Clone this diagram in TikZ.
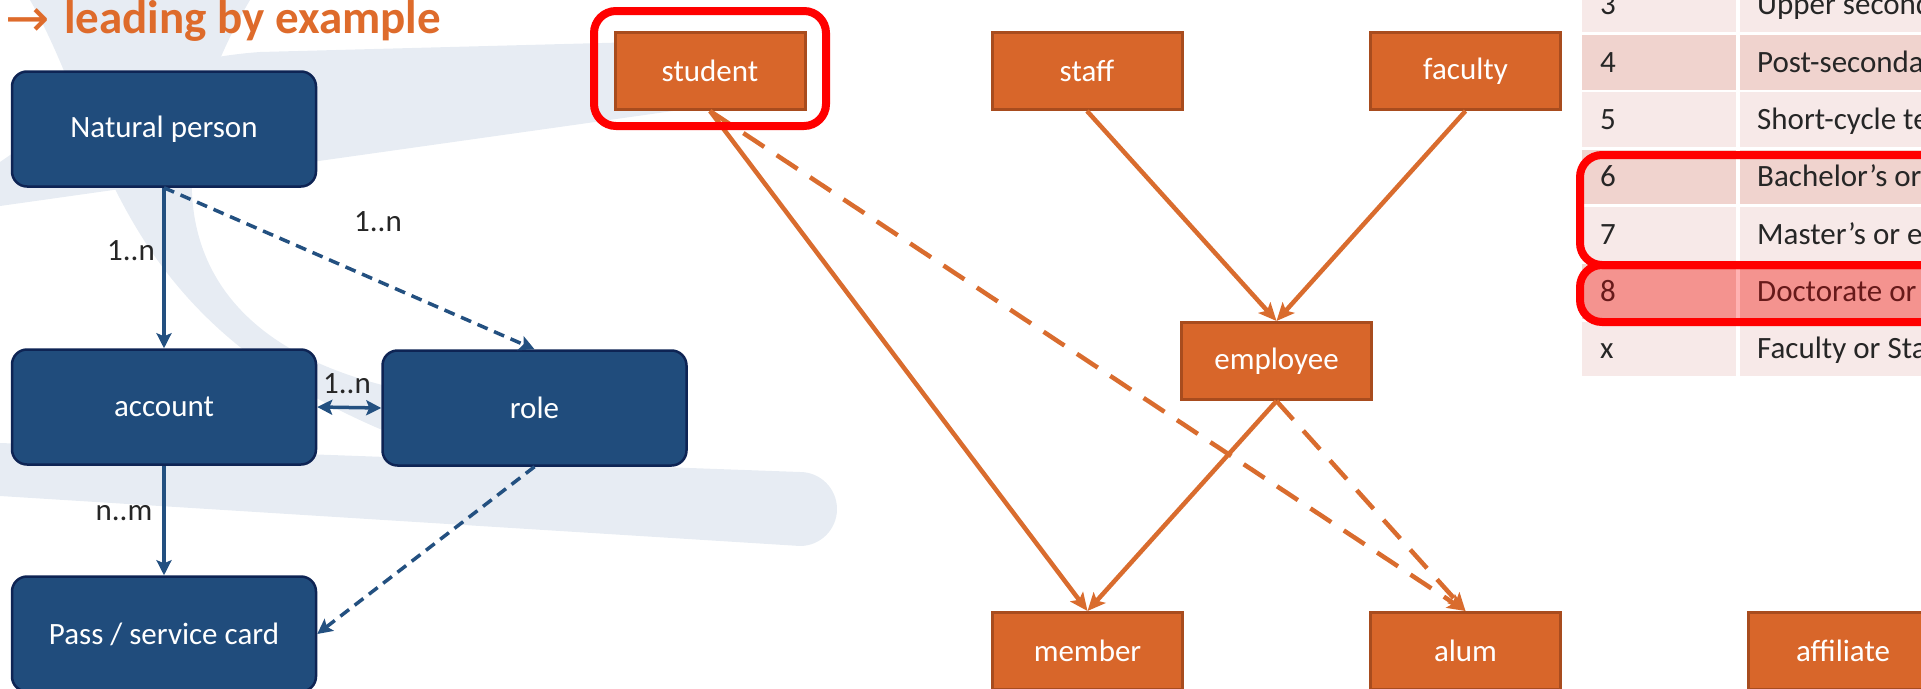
\documentclass[tikz,border=0pt]{standalone}
\usepackage{fontspec}
\setmainfont{Carlito}
\newfontfamily\arrowfont{DejaVu Sans}
\usetikzlibrary{arrows.meta}
\definecolor{swoosh}{RGB}{231,236,243}
\definecolor{navyfill}{RGB}{32,76,124}
\definecolor{navyline}{RGB}{14,36,84}
\definecolor{navyarrow}{RGB}{35,80,128}
\definecolor{rustfill}{RGB}{216,102,42}
\definecolor{rustline}{RGB}{168,76,30}
\definecolor{rustarrow}{RGB}{217,108,46}
\definecolor{titleorange}{RGB}{222,107,43}
\definecolor{rowlight}{RGB}{247,233,232}
\definecolor{rowdark}{RGB}{240,211,206}
\definecolor{tabletext}{RGB}{38,38,38}
\newcommand{\labelsize}{\fontsize{31}{37}\selectfont}
\newcommand{\titlesize}{\fontsize{47}{56}\selectfont}
\newcommand{\navytip}{Stealth[length=15pt,width=15pt,inset=3pt]}
\tikzstyle{entity}=[draw=navyline, line width=2.5pt, fill=navyfill, rounded corners=15pt,
                    minimum width=304pt, minimum height=115pt, text=white, font=\labelsize, inner sep=0]
\tikzstyle{affiliation}=[draw=rustline, line width=3pt, fill=rustfill,
                         minimum width=190pt, minimum height=77pt, text=white, font=\labelsize, inner sep=0]
\tikzstyle{relation}=[draw=navyarrow, line width=3.5pt, -{\navytip}]
\tikzstyle{optrelation}=[relation, dash pattern=on 11pt off 7pt]
\tikzstyle{inherit}=[draw=rustarrow, line width=4.5pt, -{Stealth[length=18pt,width=16pt,inset=4pt]}]
\tikzstyle{optinherit}=[inherit, dash pattern=on 25pt off 15pt]
\tikzstyle{multiplicity}=[font=\labelsize, text=tabletext, inner sep=0]
\tikzstyle{cell}=[font=\labelsize, text=tabletext, inner sep=0, anchor=base west]
\tikzstyle{highlight}=[draw=red, line width=8pt, rounded corners=22pt]
\begin{document}
\begin{tikzpicture}[x=1pt, y=-1pt]
    \useasboundingbox (0,0) rectangle (1921,688);
    \clip (0,0) rectangle (1921,688);
    % background swooshes
    \fill[swoosh] (30,0) .. controls (110,140) and (110,330) .. (420,445) -- (430,395)
        .. controls (160,350) and (150,170) .. (250,0) -- cycle;
    \fill[swoosh] (0,162) .. controls (90,100) and (150,60) .. (260,52) -- (640,42)
        .. controls (700,40) and (712,95) .. (680,110) -- (0,206) -- cycle;
    \fill[swoosh] (0,443) -- (800,472) arc[start angle=90, end angle=-90, radius=37pt] -- (0,496) -- cycle;
    % title
    \node[anchor=base west, inner sep=0, text=titleorange, font=\fontsize{53}{60}\selectfont] (titlearrow) at (5,36) {\arrowfont →};
    \node[anchor=base west, inner sep=0, text=titleorange, font=\titlesize\bfseries] (title) at (64,33) {leading by example};
    % identity model
    \node[entity] (person)  at (164,129)   {Natural person};
    \node[entity] (account) at (164,407)   {account};
    \node[entity] (role)    at (534.5,408) {role};
    \node[entity] (card)    at (164,634)   {Pass / service card};
    \draw[relation] (person.south) -- (account.north);
    \draw[optrelation] (person.south) -- (role.north);
    \draw[relation, {\navytip}-{\navytip}] (account.east) -- (role.west);
    \draw[relation] (account.south) -- (card.north);
    \draw[optrelation] (role.south) -- (card.east);
    \node[multiplicity] (m1) at (131,251) {1..n};
    \node[multiplicity] (m2) at (378,222) {1..n};
    \node[multiplicity] (m3) at (347,384) {1..n};
    \node[multiplicity] (m4) at (124,513) {n..m};
    % affiliations
    \node[affiliation] (student)   at (710,71)    {student};
    \node[affiliation] (staff)     at (1087,71)   {staff};
    \node[affiliation] (faculty)   at (1465.5,71) {faculty};
    \node[affiliation] (employee)  at (1276.5,361) {employee};
    \node[affiliation] (member)    at (1087.5,651) {member};
    \node[affiliation] (alum)      at (1465.5,651) {alum};
    \node[affiliation] (affiliate) at (1843,651)  {affiliate};
    \draw[inherit] (student.south) -- (member.north);
    \draw[optinherit] (student.south) -- (alum.north);
    \draw[inherit] (staff.south) -- (employee.north);
    \draw[inherit] (faculty.south) -- (employee.north);
    \draw[inherit] (employee.south) -- (member.north);
    \draw[optinherit] (employee.south) -- (alum.north);
    \draw[highlight] (594,11) rectangle (826,126);
    % ISCED levels
    \foreach \lvl/\desc/\shade [count=\i from 0] in {3/Upper second/rowlight, 4/Post-secondar/rowdark,
            5/Short-cycle te/rowlight, 6/Bachelor’s or/rowdark, 7/Master’s or e/rowlight,
            8/Doctorate or/rowdark, x/Faculty or Sta/rowlight} {
        \pgfmathsetmacro\rowtop{-22.3+\i*57.3}
        \pgfmathsetmacro\rowbot{\rowtop+54.5}
        \pgfmathsetmacro\rowbase{\rowtop+37.2}
        \fill[\shade] (1582,\rowtop) rectangle (1736,\rowbot);
        \fill[\shade] (1740,\rowtop) rectangle (1960,\rowbot);
        \node[cell] (lvl\i) at (1600,\rowbase) {\lvl};
        \node[cell] (desc\i) at (1757,\rowbase) {\desc};
    }
    \draw[highlight] (1580,155) rectangle (1970,265);
    \draw[highlight, fill=red, fill opacity=0.3] (1580,265) rectangle (1970,322);
\end{tikzpicture}
\end{document}
